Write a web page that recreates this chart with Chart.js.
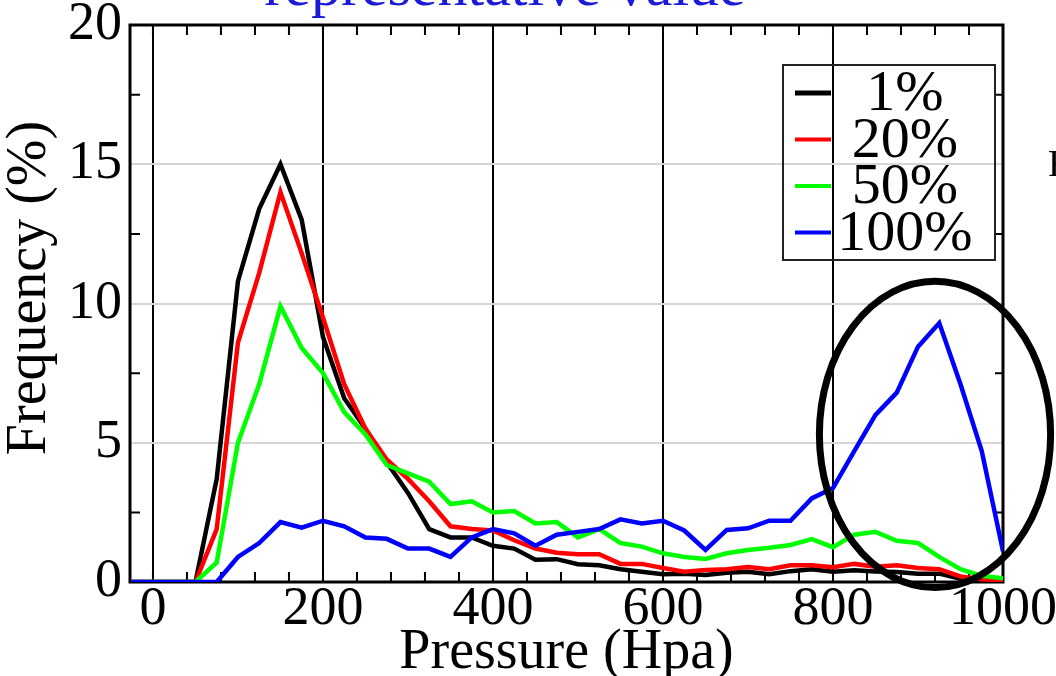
<!DOCTYPE html>
<html lang="en">
<head>
<meta charset="UTF-8">
<style>
  body { margin: 0; background: #fff; }
</style>
</head>
<body>
<canvas id="freq-chart" width="1056" height="676"></canvas>
<script src="https://cdn.jsdelivr.net/npm/chart.js"></script>
<script>
    // pressure bins (hPa) and frequency (%) for each threshold
    var pressure = [-25, 0, 25, 50, 75, 100, 125, 150, 175, 200, 225, 250, 275, 300, 325, 350, 375, 400, 425, 450,
        475, 500, 525, 550, 575, 600, 625, 650, 675, 700, 725, 750, 775, 800, 825, 850, 875, 900, 925, 950, 975, 1000];
    var freq1 = [0, 0, 0, 0, 3.7, 10.8, 13.4, 15.0, 13.0, 8.8, 6.6, 5.5, 4.3, 3.2, 1.9, 1.6, 1.6, 1.3, 1.2, 0.8,
        0.82, 0.64, 0.6, 0.46, 0.37, 0.28, 0.3, 0.25, 0.33, 0.37, 0.28, 0.39, 0.46, 0.37, 0.42, 0.38, 0.36, 0.3, 0.3, 0.12, 0.05, 0];
    var freq20 = [0, 0, 0, 0, 1.9, 8.6, 11.1, 14.0, 11.8, 9.5, 7.1, 5.5, 4.4, 3.7, 2.9, 2.0, 1.9, 1.85, 1.5, 1.2,
        1.05, 1.0, 1.0, 0.65, 0.65, 0.5, 0.37, 0.43, 0.46, 0.54, 0.46, 0.6, 0.6, 0.53, 0.65, 0.55, 0.6, 0.5, 0.46, 0.2, 0.1, 0.05];
    var freq50 = [0, 0, 0, 0, 0.7, 5.0, 7.1, 9.9, 8.4, 7.5, 6.1, 5.3, 4.2, 3.9, 3.6, 2.8, 2.9, 2.5, 2.55, 2.1,
        2.15, 1.6, 1.9, 1.4, 1.27, 1.03, 0.9, 0.83, 1.03, 1.15, 1.23, 1.33, 1.54, 1.25, 1.7, 1.8, 1.48, 1.4, 0.9, 0.46, 0.22, 0.13];
    var freq100 = [0, 0, 0, 0, 0, 0.9, 1.4, 2.15, 1.95, 2.2, 2.0, 1.6, 1.55, 1.2, 1.2, 0.9, 1.6, 1.9, 1.75, 1.3,
        1.7, 1.8, 1.9, 2.25, 2.1, 2.2, 1.85, 1.15, 1.87, 1.93, 2.2, 2.2, 3.0, 3.37, 4.7, 6.0, 6.8, 8.45, 9.3, 7.1, 4.7, 1.1];

    var seriesNames = ['1%', '20%', '50%', '100%'];
    var seriesColors = ['#000000', '#ff0000', '#00ff00', '#0000ff'];
    var seriesValues = [freq1, freq20, freq50, freq100];

    var xLabels = [0, 200, 400, 600, 800, 1000];
    var yLabels = [0, 5, 10, 15, 20];

    var serif = "'Liberation Serif', 'Times New Roman', serif";

    function points(values) {
        return pressure.map(function (p, i) { return { x: p, y: values[i] }; });
    }

    var datasets = seriesNames.map(function (name, i) {
        return {
            label: name,
            data: points(seriesValues[i]),
            borderColor: seriesColors[i],
            borderWidth: 4.5,
            pointRadius: 0,
            tension: 0,
            fill: false,
            order: 3 - i   // blue on top
        };
    });

    // frame plus inward minor ticks, drawn under the lines
    var framePlugin = {
        id: 'frame',
        beforeDatasetsDraw: function (chart) {
            var ctx = chart.ctx, a = chart.chartArea;
            var xs = chart.scales.x, ys = chart.scales.y;
            ctx.save();
            ctx.strokeStyle = '#000';
            ctx.lineWidth = 2;
            ctx.beginPath();
            for (var v = 0; v <= 1000; v += 40) {
                var px = xs.getPixelForValue(v);
                ctx.moveTo(px, a.bottom); ctx.lineTo(px, a.bottom - 10);
                ctx.moveTo(px, a.top); ctx.lineTo(px, a.top + 10);
            }
            for (var w = 2.5; w < 20; w += 5) {
                var py = ys.getPixelForValue(w);
                ctx.moveTo(a.left, py); ctx.lineTo(a.left + 10, py);
                ctx.moveTo(a.right, py); ctx.lineTo(a.right - 8, py);
            }
            ctx.stroke();
            ctx.lineWidth = 3;
            ctx.strokeRect(a.left, a.top, a.right - a.left, a.bottom - a.top);
            ctx.restore();
        }
    };

    // boxed legend in the upper right of the plot
    var legendPlugin = {
        id: 'boxLegend',
        afterDatasetsDraw: function (chart) {
            var ctx = chart.ctx, a = chart.chartArea;
            var right = a.right - 8, top = a.top + 40;
            var left = right - 212, rowH = 46.5;
            ctx.save();
            ctx.strokeStyle = '#222';
            ctx.lineWidth = 2;
            ctx.strokeRect(left, top, right - left, rowH * 4 + 9);
            ctx.font = '58px ' + serif;
            ctx.textAlign = 'center';
            ctx.textBaseline = 'middle';
            chart.data.datasets.forEach(function (ds, i) {
                var cy = top + 28 + i * rowH;
                ctx.strokeStyle = ds.borderColor;
                ctx.lineWidth = i === 0 ? 5 : 4;
                ctx.beginPath();
                ctx.moveTo(left + 12, cy);
                ctx.lineTo(left + 48, cy);
                ctx.stroke();
                ctx.fillStyle = '#000';
                ctx.fillText(ds.label, left + 122, cy + 2);
            });
            ctx.restore();
        }
    };

    // heading (clipped at the top edge), y title, highlight ellipse and stray edge glyph
    var notePlugin = {
        id: 'notes',
        afterDraw: function (chart) {
            var ctx = chart.ctx;
            var xs = chart.scales.x, ys = chart.scales.y;
            ctx.save();
            ctx.fillStyle = '#1a1ad8';
            ctx.font = '60px ' + serif;
            ctx.textAlign = 'center';
            ctx.textBaseline = 'alphabetic';
            ctx.fillText('representative value', 505, 5);

            ctx.fillStyle = '#000';
            ctx.font = '38px ' + serif;
            ctx.textAlign = 'left';
            ctx.fillText('F', 1048, 176);

            ctx.save();
            ctx.translate(30, 288);
            ctx.rotate(-Math.PI / 2);
            ctx.font = '56px ' + serif;
            ctx.textAlign = 'center';
            ctx.textBaseline = 'middle';
            ctx.fillText('Frequency (%)', 0, 0);
            ctx.restore();

            var cx = xs.getPixelForValue(920), cy = ys.getPixelForValue(5.3);
            var rx = xs.getPixelForValue(920 + 136) - cx;
            var ry = cy - ys.getPixelForValue(5.3 + 5.5);
            ctx.strokeStyle = '#000';
            ctx.lineWidth = 7;
            ctx.beginPath();
            ctx.ellipse(cx, cy, rx, ry, 0, 0, Math.PI * 2);
            ctx.stroke();
            ctx.restore();
        }
    };

    new Chart(document.getElementById('freq-chart'), {
        type: 'line',
        data: { datasets: datasets },
        plugins: [framePlugin, legendPlugin, notePlugin],
        options: {
            responsive: false,
            animation: false,
            layout: { padding: { top: 25, right: 53, left: 0, bottom: 0 } },
            plugins: {
                legend: { display: false },
                tooltip: { enabled: false }
            },
            scales: {
                x: {
                    type: 'linear',
                    min: -27,
                    max: 1000,
                    afterFit: function (scale) {
                        scale.height = 94;
                        scale.paddingLeft = 0;
                        scale.paddingRight = 0;
                    },
                    afterBuildTicks: function (scale) {
                        scale.ticks = xLabels.map(function (v) { return { value: v }; });
                    },
                    border: { display: false },
                    grid: {
                        drawTicks: false,
                        lineWidth: 2,
                        color: function (c) { return c.tick && c.tick.value < 1000 ? '#000' : 'rgba(0,0,0,0)'; }
                    },
                    ticks: {
                        color: '#000',
                        padding: -5,
                        maxRotation: 0,
                        autoSkip: false,
                        font: { family: serif, size: 54 },
                        callback: function (v) { return String(v); }
                    },
                    title: {
                        display: true,
                        text: 'Pressure (Hpa)',
                        color: '#000',
                        padding: 0,
                        font: { family: serif, size: 56, lineHeight: 0.8 }
                    }
                },
                y: {
                    min: 0,
                    max: 20,
                    afterFit: function (scale) {
                        scale.width = 130;
                        scale.paddingTop = 0;
                        scale.paddingBottom = 0;
                    },
                    afterBuildTicks: function (scale) {
                        scale.ticks = yLabels.map(function (v) { return { value: v }; });
                    },
                    border: { display: false },
                    grid: {
                        drawTicks: false,
                        lineWidth: 2,
                        color: function (c) {
                            var v = c.tick ? c.tick.value : 0;
                            return v > 0 && v < 20 ? '#d6d6d6' : 'rgba(0,0,0,0)';
                        }
                    },
                    ticks: {
                        color: '#000',
                        padding: 8,
                        font: { family: serif, size: 54 }
                    }
                }
            }
        }
    });
</script>
</body>
</html>
